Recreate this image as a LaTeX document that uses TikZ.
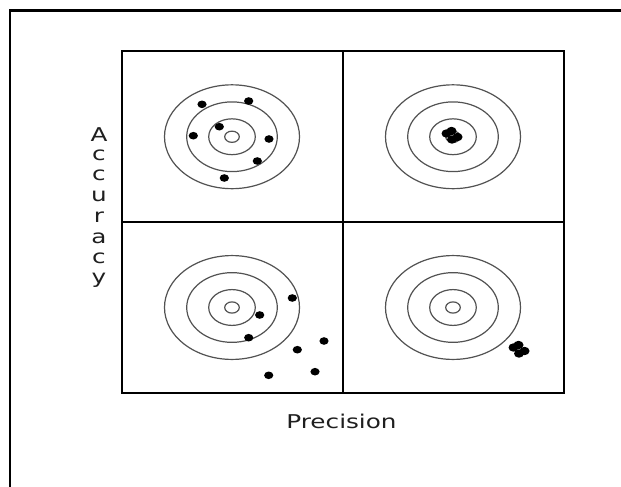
\documentclass[tikz,border=0pt]{standalone}
\usepackage{fontspec}
\setmainfont{DejaVu Sans}
\begin{document}
\begin{tikzpicture}[x=1pt,y=-1pt,
  ring/.style={draw=black!68,line width=1.2pt},
  hit/.style={fill=black},
  gridline/.style={draw=black,line width=2pt},
  frameline/.style={draw=black,line width=2.6pt},
  lab/.style={font=\fontsize{19}{19}\selectfont,text=black!88,xscale=1.3,inner sep=0pt}]
\useasboundingbox (0,0) rectangle (621,487);
\clip (0,0) rectangle (621,487);
\fill[white] (0,0) rectangle (621,487);
% outer frame (extends past the picture edge)
\draw[frameline] (10,10.7) rectangle (700,600);
% grid
\draw[gridline] (121.5,51.5) rectangle (563.5,393);
\draw[gridline] (342.5,51.5) -- (342.5,393);
\draw[gridline] (121.5,222) -- (563.5,222);
% targets
\foreach \cx/\cy/\n in {232/136.75/tl,453/136.75/tr,232/307.5/bl,453/307.5/br}{
  \coordinate (\n) at (\cx,\cy);
  \foreach \r in {67.5,45.3,23.3,7.3}{
    \draw[ring] (\n) ellipse [x radius=\r, y radius=\r/1.3];
  }
}
% hits: top-left (accurate, not precise)
\foreach \px/\py in {202/104.3,248.7/101,219.3/126.7,193.3/135.7,269/139,257.3/161,224.3/178}{
  \fill[hit] (\px,\py) ellipse [x radius=4.6, y radius=3.8];
}
% top-right cluster
\foreach \px/\py in {446.5/133.5,451.5/131,452/139.5,457.5/137}{
  \fill[hit] (\px,\py) ellipse [x radius=5, y radius=4.2];
}
% bottom-left scattered
\foreach \px/\py in {292.3/298,259.7/315,248.7/337.7,324/341,297.3/349.7,315/371.7,268.7/375.3}{
  \fill[hit] (\px,\py) ellipse [x radius=4.6, y radius=3.8];
}
% bottom-right cluster
\foreach \px/\py in {513.5/347.5,518.5/345,519/353.5,524.5/351}{
  \fill[hit] (\px,\py) ellipse [x radius=5, y radius=4.2];
}
% labels
\foreach \ch/\by [count=\i] in {A/141,c/160.5,c/180.5,u/201,r/222,a/243.5,c/263.5,y/283}{
  \node[lab,anchor=base] (acc\i) at (99,\by) {\ch};
}
\node[lab,anchor=base] (prec) at (341.5,428) {Precision};
\end{tikzpicture}
\end{document}
